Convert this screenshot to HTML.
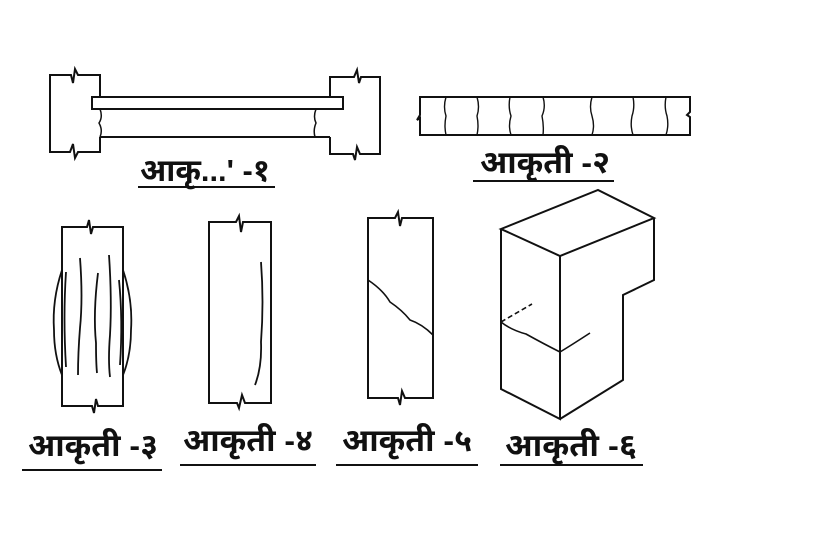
<!DOCTYPE html>
<html><head><meta charset="utf-8"><style>
html,body{margin:0;padding:0;background:#fff;width:830px;height:553px;overflow:hidden}
svg{display:block}
text{font-family:"Liberation Sans","Noto Sans Devanagari","Lohit Devanagari",sans-serif;font-weight:bold;font-size:31px;fill:#111}
</style></head><body>
<svg width="830" height="553" viewBox="0 0 830 553" xmlns="http://www.w3.org/2000/svg">
<g fill="none" stroke="#111" stroke-width="2" stroke-linejoin="miter">
<path d="M100,97 V75 H78 l-3,-6 l-2,14 l-2,-8 H50 V152 H70 l3,-8 l2,14 l3,-6 H100 V137"/>
<path d="M330,97 V77 H354 l3,-7 l2,13 l2,-6 H380 V154 H360 l-3,-7 l-2,13 l-2,-6 H330 V137"/>
<rect x="92" y="97" width="251" height="12"/>
<path d="M100,137 H330"/>
<path d="M100,109 q3,8 -1,14 q4,7 1,14" stroke-width="1.5"/>
<path d="M316,109 q-3,8 0,14 q-3,7 -1,14" stroke-width="1.5"/>
<path d="M420,97 H690 V112 l-3,3 l3,2 V135 H420 V118 l-3,2 l3,-5 Z"/>
<g stroke-width="1.4">
<path d="M446,97 q-3,10 0,19 q-2,10 0,19"/>
<path d="M477,97 q3,10 0,19 q2,10 0,19"/>
<path d="M510,97 q-2,10 1,19 q-3,10 0,19"/>
<path d="M543,97 q3,10 -1,19 q2,10 1,19"/>
<path d="M592,97 q-3,10 0,19 q3,10 0,19"/>
<path d="M633,97 q2,10 -1,19 q-2,10 1,19"/>
<path d="M666,97 q-2,10 1,19 q2,10 -1,19"/>
</g>
<path d="M62,227 H87 l2,-7 l2,14 l2,-7 H123 V406 H98 l-2,-7 l-2,14 l-2,-7 H62 Z"/>
<g stroke-width="1.8">
<path d="M62,270 q-10,30 -8,60 q0,25 8,45"/>
<path d="M123,270 q10,30 8,60 q0,25 -8,45"/>
<path d="M66,272 q-3,45 0,95"/>
<path d="M80,258 q3,40 0,70 q-2,25 -2,47"/>
<path d="M98,273 q-5,40 -2,70 q0,20 1,30"/>
<path d="M109,255 q3,45 1,80 q-2,25 0,42"/>
<path d="M119,280 q4,40 1,85"/>
</g>
<path d="M209,222 H236 l3,-6 l2,16 l2,-10 H271 V403 H245 l-3,-8 l-3,13 l-2,-5 H209 Z"/>
<path d="M261,262 q3,40 0,80 q1,25 -6,43" stroke-width="1.8"/>
<path d="M368,218 H395 l3,-6 l2,14 l2,-8 H433 V398 H405 l-3,-7 l-2,14 l-2,-7 H368 Z"/>
<path d="M368,280 q15,10 22,22 q12,8 20,18 q12,4 23,15" stroke-width="1.6"/>
<path d="M501,229 L598,190 L654,218 L560,256 Z"/>
<path d="M501,229 V389 L560,419 V256"/>
<path d="M654,218 V280 L623,295 V380 L560,419"/>
<path d="M501,322 q10,8 25,12 q18,10 34,18 q10,-6 30,-19" stroke-width="1.6"/>
<path d="M501,322 L532,304" stroke-width="1.6" stroke-dasharray="5,3"/>
<path d="M138,187 H275"/>
<path d="M473,181 H614"/>
<path d="M22,470 H162"/>
<path d="M180,465 H316"/>
<path d="M336,465 H478"/>
<path d="M500,465 H643"/>
</g>
<text x="140" y="181" textLength="130" lengthAdjust="spacingAndGlyphs">आकृ...' -१</text>
<text x="480" y="173" textLength="130" lengthAdjust="spacingAndGlyphs">आकृती -२</text>
<text x="28" y="456" textLength="130" lengthAdjust="spacingAndGlyphs">आकृती -३</text>
<text x="183" y="451" textLength="130" lengthAdjust="spacingAndGlyphs">आकृती -४</text>
<text x="342" y="451" textLength="130" lengthAdjust="spacingAndGlyphs">आकृती -५</text>
<text x="505" y="456" textLength="132" lengthAdjust="spacingAndGlyphs">आकृती -६</text>
</svg>
</body></html>
